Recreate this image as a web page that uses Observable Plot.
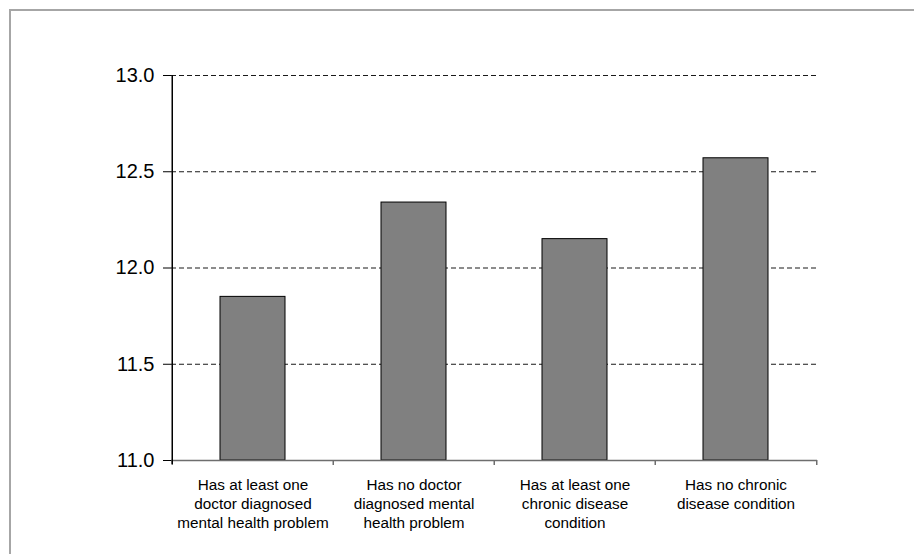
<!DOCTYPE html>
<html>
<head>
<meta charset="utf-8">
<script src="https://cdn.jsdelivr.net/npm/d3@7"></script>
<script src="https://cdn.jsdelivr.net/npm/@observablehq/plot@0.6"></script>
<style>
  html, body { margin: 0; padding: 0; background: #fff; }
  #wrap { position: relative; width: 914px; height: 554px; overflow: hidden; }
  #border {
    position: absolute; left: 9px; top: 9px; width: 1000px; height: 1000px;
    border-top: 2px solid #a6a6a6; border-left: 2px solid #a6a6a6;
    pointer-events: none;
  }
  #wrap svg { position: absolute; left: 0; top: 0; }
</style>
</head>
<body>
<div id="wrap"><div id="border"></div></div>
<script>
// Groups along the x axis
const categories = [
  "Has at least one\ndoctor diagnosed\nmental health problem",
  "Has no doctor\ndiagnosed mental\nhealth problem",
  "Has at least one\nchronic disease\ncondition",
  "Has no chronic\ndisease condition"
];
// Mean score for each group
const values = [11.85, 12.34, 12.15, 12.57];
// Value axis
const yDomain = [11.0, 13.0];
const yTicks = [11.0, 11.5, 12.0, 12.5, 13.0];
const gridTicks = [11.5, 12.0, 12.5, 13.0];

const data = categories.map((c, i) => ({category: c, value: values[i]}));

const W = 914, H = 554;
const mL = 171, mR = 97, mT = 75, mB = 94;
const bw = (W - mL - mR) / categories.length; // band width (padding 0)

const chart = Plot.plot({
  width: W,
  height: H,
  marginLeft: mL,
  marginRight: mR,
  marginTop: mT,
  marginBottom: mB,
  style: {fontFamily: "'Liberation Sans', Arial, sans-serif", color: "#000", background: "transparent"},
  x: {domain: categories, padding: 0},
  y: {domain: yDomain},
  marks: [
    // dashed horizontal gridlines
    Plot.ruleY(gridTicks, {stroke: "#1a1a1a", strokeWidth: 1.1, strokeDasharray: "5,3"}),
    // bars rising from the bottom of the value axis
    Plot.barY(data, {
      x: "category", y1: yDomain[0], y2: "value",
      fill: "#808080", stroke: "#000", strokeWidth: 1,
      insetLeft: 48, insetRight: 48
    }),
    // category axis line
    Plot.ruleY([yDomain[0]], {stroke: "#6e6e6e", strokeWidth: 1.5}),
    // tick marks at the category boundaries
    Plot.ruleX(categories, {x: d => d, y1: yDomain[0], y2: yDomain[0], insetBottom: -5, dx: -bw / 2, stroke: "#6e6e6e", strokeWidth: 1.5}),
    Plot.ruleX([categories[categories.length - 1]], {x: d => d, y1: yDomain[0], y2: yDomain[0], insetBottom: -5, dx: bw / 2, stroke: "#6e6e6e", strokeWidth: 1.5}),
    // value axis line
    Plot.ruleX([categories[0]], {x: d => d, y1: yDomain[1], y2: yDomain[0], insetBottom: -4, dx: -bw / 2, stroke: "#000", strokeWidth: 1.5}),
    Plot.axisY({ticks: yTicks, tickFormat: d3.format(".1f"), tickSize: 8, tickPadding: 9, fontSize: 20, label: null}),
    Plot.axisX({tickSize: 0, tickPadding: 16, fontSize: 15.3, lineHeight: 1.25, label: null})
  ]
});

document.getElementById("wrap").appendChild(chart);
</script>
</body>
</html>
